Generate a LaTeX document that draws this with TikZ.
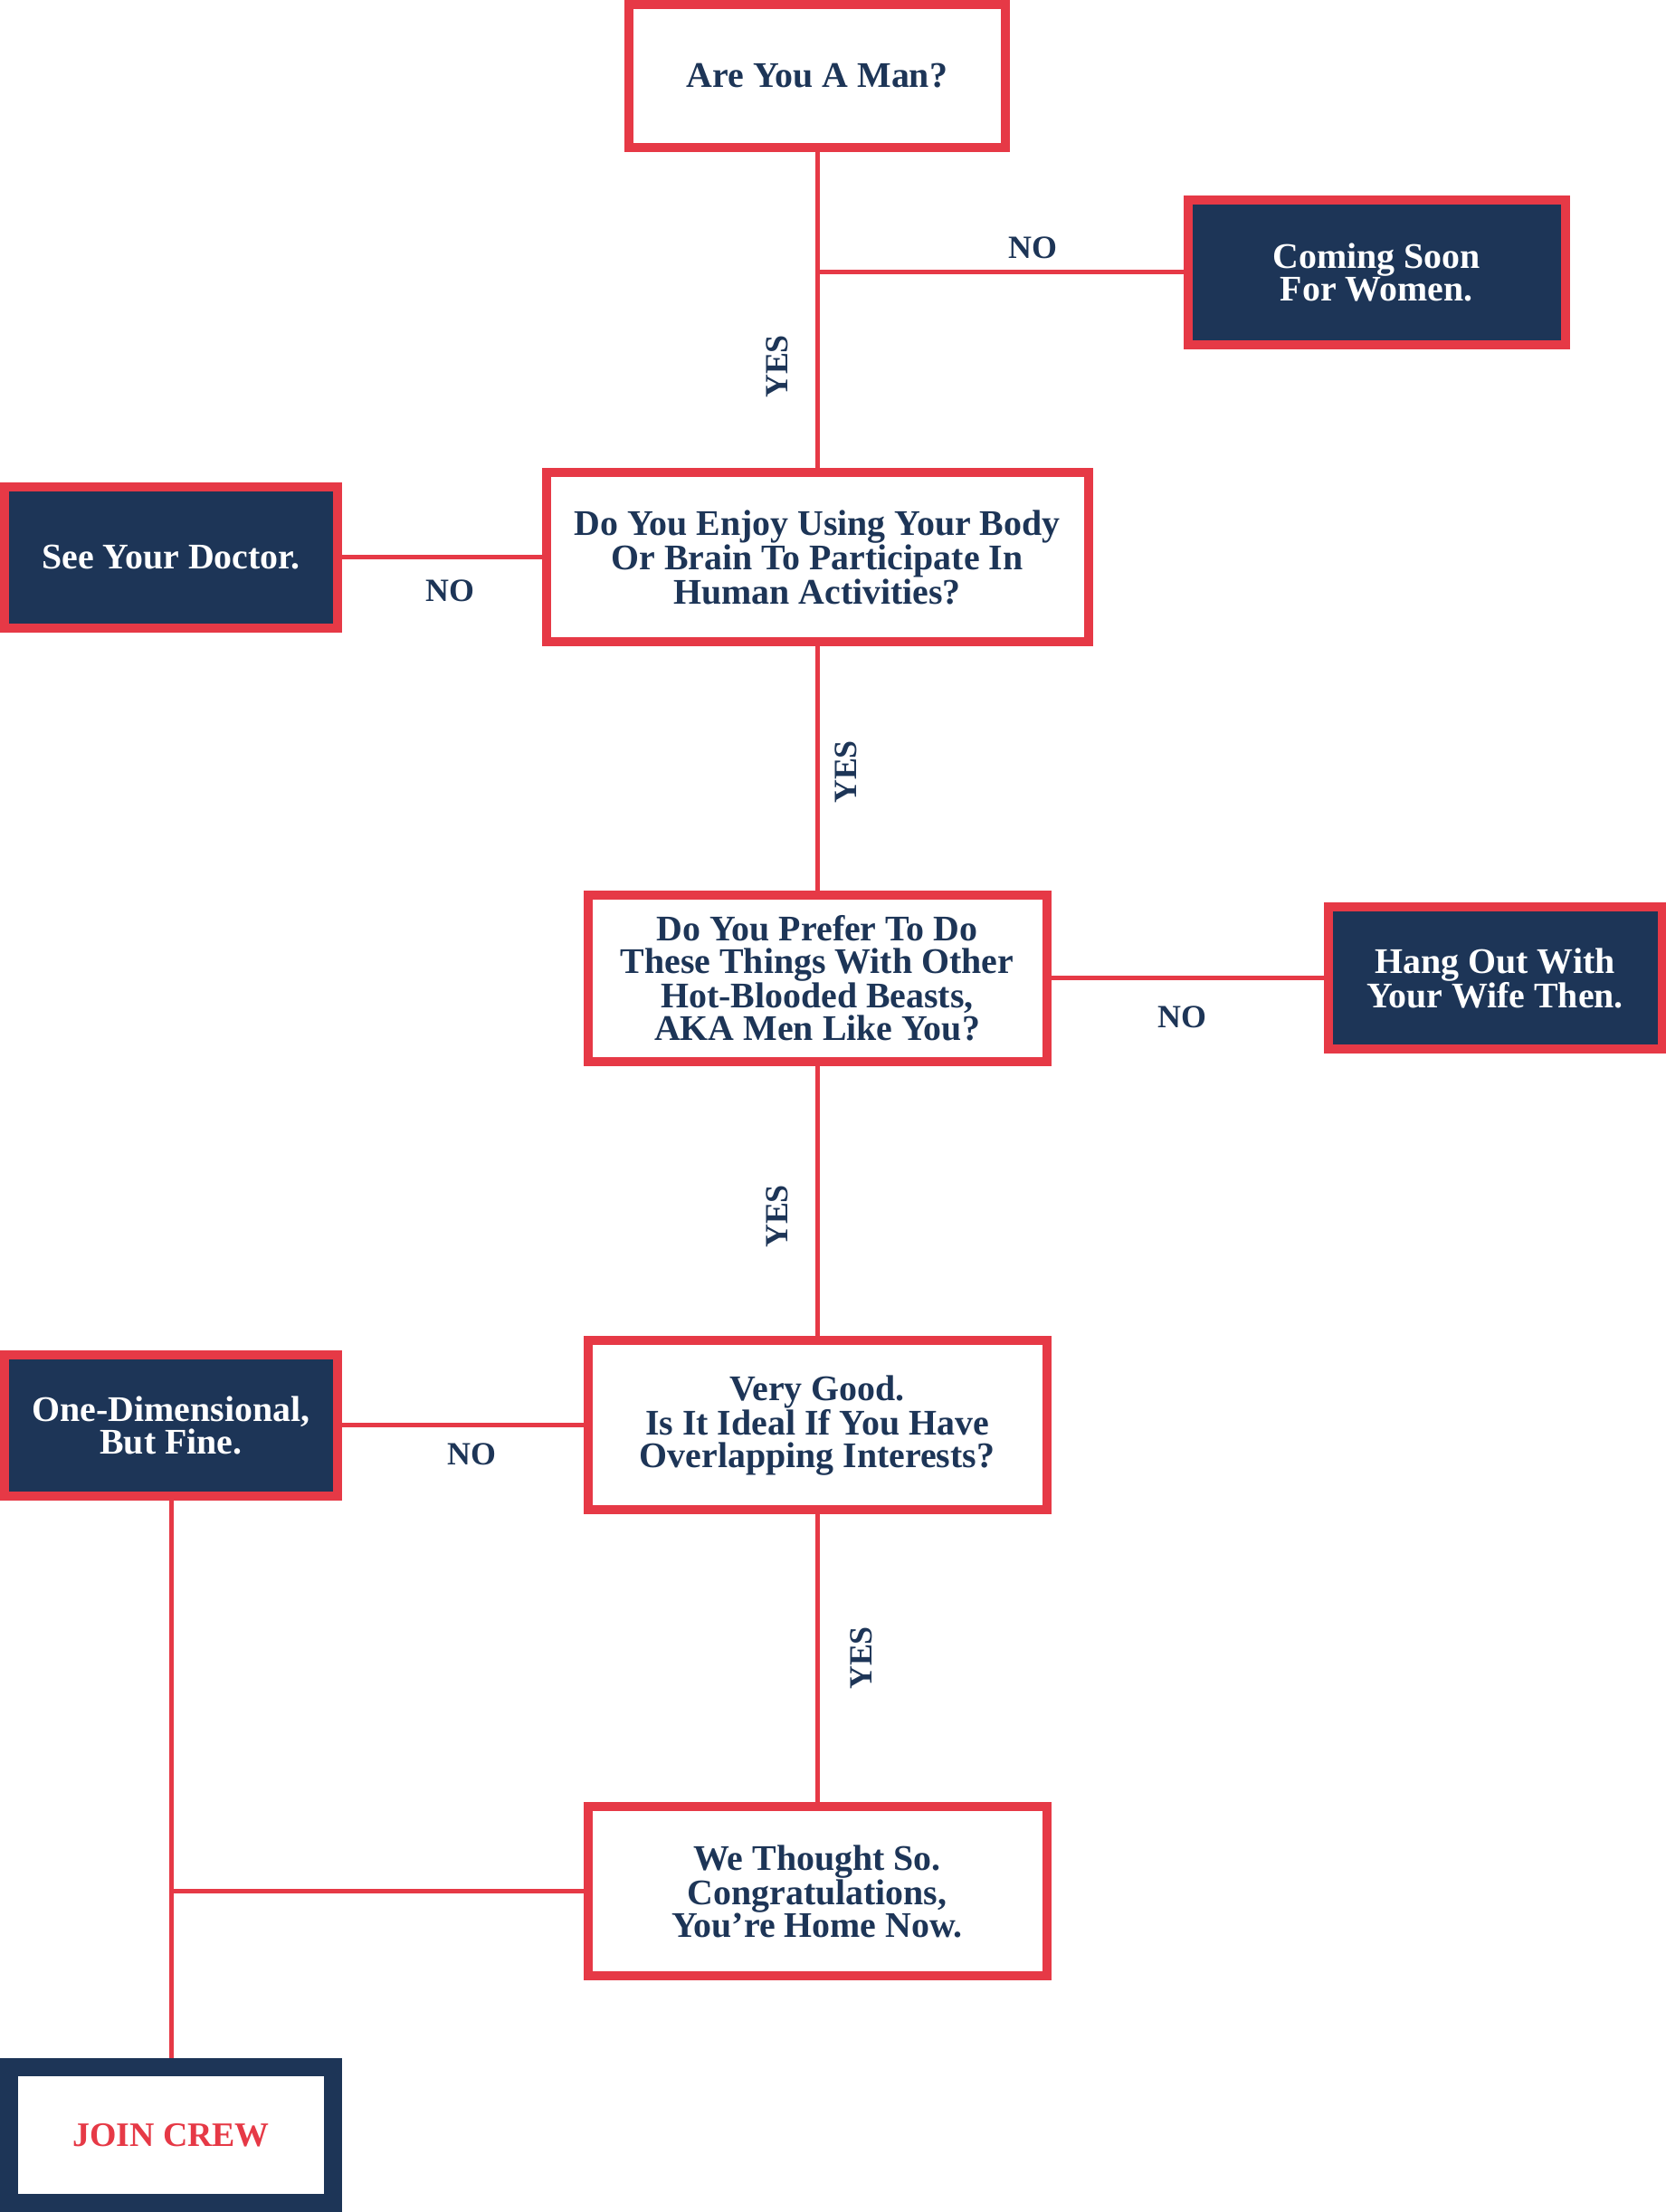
\documentclass[tikz,border=0pt]{standalone}
\usepackage{fontspec}
\setmainfont{Liberation Serif}
\usepackage{tikz}
\usetikzlibrary{arrows,shapes}
\definecolor{crewred}{RGB}{230,57,70}
\definecolor{crewnavy}{RGB}{29,53,87}

\begin{document}
\begin{tikzpicture}[
  qbox/.style={draw=crewred,line width=5bp,fill=white,text=crewnavy,align=center,inner sep=0pt,
    font=\bfseries\fontsize{20}{18}\selectfont},
  nobox/.style={draw=crewred,line width=5bp,fill=crewnavy,text=white,align=center,inner sep=0pt,
    font=\bfseries\fontsize{20}{18}\selectfont},
  lbl/.style={text=crewnavy,font=\bfseries\fontsize{18}{18}\selectfont},
  link/.style={draw=crewred,line width=2.5bp}]
\useasboundingbox (0bp,0bp) rectangle (920.5bp,1222bp);
%%
\node (man) at (451.5bp,1180bp) [qbox,minimum width=208bp,minimum height=79bp] {Are You A Man?};
  \node (soon) at (760.5bp,1071.5bp) [nobox,minimum width=208.5bp,minimum height=80bp] {Coming Soon\\For Women.};
  \node (q2) at (451.5bp,914bp) [qbox,minimum width=299.5bp,minimum height=93.5bp] {Do You Enjoy Using Your Body\\Or Brain To Participate In\\Human Activities?};
  \node (doctor) at (94.5bp,914bp) [nobox,minimum width=184bp,minimum height=78bp] {See Your Doctor.};
  \node (q3) at (451.5bp,681.5bp) [qbox,minimum width=253.5bp,minimum height=92bp] {Do You Prefer To Do\\These Things With Other\\Hot-Blooded Beasts,\\AKA Men Like You?};
  \node (hang) at (826bp,681.5bp) [nobox,minimum width=184.5bp,minimum height=78.5bp] {Hang Out With\\Your Wife Then.};
  \node (q4) at (451.5bp,434.5bp) [qbox,minimum width=253.5bp,minimum height=93.5bp] {Very Good.\\Is It Ideal If You Have\\Overlapping Interests?};
  \node (onedim) at (94.5bp,434.5bp) [nobox,minimum width=184bp,minimum height=78bp] {One-Dimensional,\\But Fine.};
  \node (q5) at (451.5bp,177bp) [qbox,minimum width=253.5bp,minimum height=93.5bp] {We Thought So.\\Congratulations,\\You’re Home Now.};
  \node (join) at (94.5bp,42.5bp) [draw=crewnavy,line width=10bp,fill=white,text=crewred,inner sep=0pt,
    minimum width=179bp,minimum height=75bp,font=\bfseries\fontsize{19}{19}\selectfont] {JOIN CREW};
  \coordinate (fork) at (451.5bp,1071.5bp);
  \coordinate (merge) at (94.5bp,177bp);
%
  \draw [link] (man) -- (q2);
  \draw [link] (fork) -- (soon);
  \draw (570.5bp,1085bp) node [lbl] {NO};
  \draw (429.5bp,1019.5bp) node [lbl,rotate=90] {YES};
  \draw [link] (q2) -- (doctor);
  \draw (248.5bp,895.5bp) node [lbl] {NO};
  \draw [link] (q2) -- (q3);
  \draw (467.5bp,795.5bp) node [lbl,rotate=90] {YES};
  \draw [link] (q3) -- (hang);
  \draw (653bp,660bp) node [lbl] {NO};
  \draw [link] (q3) -- (q4);
  \draw (429.5bp,550bp) node [lbl,rotate=90] {YES};
  \draw [link] (q4) -- (onedim);
  \draw (260.5bp,418.5bp) node [lbl] {NO};
  \draw [link] (q4) -- (q5);
  \draw (476bp,306bp) node [lbl,rotate=90] {YES};
  \draw [link] (onedim) -- (join);
  \draw [link] (q5) -- (merge);
%
\end{tikzpicture}
\end{document}
